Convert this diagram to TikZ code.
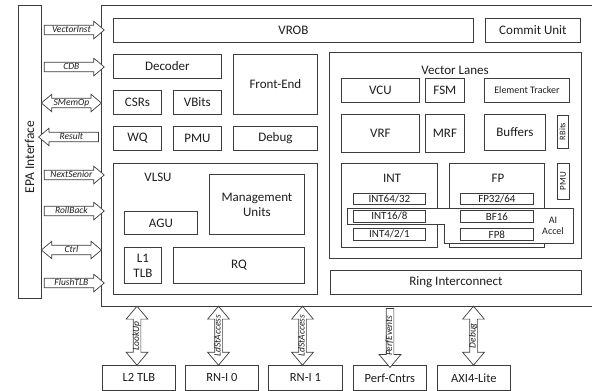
\documentclass[tikz,border=0pt]{standalone}
\usepackage{fontspec}
\setmainfont{Carlito}
\usetikzlibrary{shapes.arrows}
\definecolor{ln}{HTML}{3C3C3C}
\definecolor{tx}{HTML}{1E1E1E}
\tikzset{
  blk/.style={draw=ln, line width=0.8pt, fill=white, text=tx, inner sep=0pt, align=center, font=\fontsize{13}{15}\selectfont},
  sml/.style={blk, font=\fontsize{11}{12}\selectfont},
  tinyblk/.style={blk, font=\fontsize{8.5}{9}\selectfont},
  lbl/.style={text=tx, inner sep=0pt, align=center, font=\fontsize{13}{15}\selectfont},
  harrow/.style={draw=ln, line width=0.7pt, fill=white, text=tx, inner xsep=1pt, inner ysep=0.5pt, text height=6.2pt, text depth=1.6pt, font=\fontsize{9.5}{10}\selectfont\itshape, minimum height=60pt},
  hsingle/.style={harrow, single arrow, single arrow head extend=4pt, single arrow tip angle=80},
  hdouble/.style={harrow, double arrow, double arrow head extend=4pt, double arrow tip angle=80},
  varrow/.style={draw=ln, line width=0.7pt, fill=white, text=tx, inner xsep=1pt, inner ysep=0.5pt, text height=5pt, text depth=1pt, font=\fontsize{9.5}{10}\selectfont\itshape, minimum height=59pt, rotate=90},
  vsingle/.style={varrow, single arrow, single arrow head extend=7pt, single arrow tip angle=80},
  vdouble/.style={varrow, double arrow, double arrow head extend=7pt, double arrow tip angle=80},
}
\begin{document}
\begin{tikzpicture}[x=1pt, y=-1pt]
\useasboundingbox (0,0) rectangle (592,391);
% outer frames
\node[draw=none, anchor=north west, minimum width=491pt, minimum height=301pt, inner sep=0pt] (main) at (101,5) {};
\draw[ln, line width=0.8pt] (main.north east) -- (main.north west) -- (main.south west) -- (main.south east);
\node[blk, anchor=north west, minimum width=23pt, minimum height=293pt] (epa) at (18,5) {};
\node[lbl, rotate=90, font=\fontsize{13.5}{15}\selectfont] (epatext) at (29.5,157) {EPA Interface};

% top row
\node[blk, anchor=north west, minimum width=360pt, minimum height=24pt] (vrob) at (113,18) {VROB};
\node[blk, anchor=north west, minimum width=95pt, minimum height=24pt] (commit) at (485,18) {Commit Unit};

% front-end area
\node[blk, anchor=north west, minimum width=108pt, minimum height=24pt] (decoder) at (113,54) {Decoder};
\node[blk, anchor=north west, minimum width=84pt, minimum height=60pt] (frontend) at (233,54) {Front-End};
\node[blk, anchor=north west, minimum width=48pt, minimum height=24pt] (csrs) at (113,90) {CSRs};
\node[blk, anchor=north west, minimum width=48pt, minimum height=24pt] (vbits) at (173,90) {VBits};
\node[blk, anchor=north west, minimum width=48pt, minimum height=24pt] (wq) at (113,126) {WQ};
\node[blk, anchor=north west, minimum width=48pt, minimum height=24pt] (pmu) at (173,126) {PMU};
\node[blk, anchor=north west, minimum width=84pt, minimum height=24pt] (debug) at (233,126) {Debug};

% VLSU
\node[blk, anchor=north west, minimum width=204pt, minimum height=131pt] (vlsu) at (113,163) {};
\node[lbl] (vlsul) at (158,177) {VLSU};
\node[blk, anchor=north west, minimum width=95pt, minimum height=60pt] (mgmt) at (209,174) {Management\\Units};
\node[blk, anchor=north west, minimum width=73pt, minimum height=23pt] (agu) at (124,211) {AGU};
\node[blk, anchor=north west, minimum width=37pt, minimum height=36pt] (l1tlb) at (124,247) {L1\\TLB};
\node[blk, anchor=north west, minimum width=131pt, minimum height=36pt] (rq) at (173,247) {RQ};

% Vector lanes
\node[blk, anchor=north west, minimum width=252pt, minimum height=206pt] (lanes) at (329,52) {};
\node[lbl] (lanesl) at (455,70) {Vector Lanes};
\node[blk, anchor=north west, minimum width=78pt, minimum height=24pt] (vcu) at (341,78) {VCU};
\node[blk, anchor=north west, minimum width=39pt, minimum height=24pt] (fsm) at (425,78) {FSM};
\node[blk, anchor=north west, minimum width=85pt, minimum height=24pt, font=\fontsize{10}{11}\selectfont] (tracker) at (484,78) {Element Tracker};
\node[blk, anchor=north west, minimum width=78pt, minimum height=38pt] (vrf) at (341,114) {VRF};
\node[blk, anchor=north west, minimum width=39pt, minimum height=38pt] (mrf) at (425,114) {MRF};
\node[blk, anchor=north west, minimum width=61pt, minimum height=36pt] (buffers) at (484,114) {Buffers};
\node[tinyblk, rotate=90, minimum width=33pt, minimum height=11pt] (rbits) at (562.5,131.5) {RBits};

\node[blk, anchor=north west, minimum width=96pt, minimum height=84pt] (int) at (341,163) {};
\node[lbl] (intl) at (392,178) {INT};
\node[blk, anchor=north west, minimum width=95pt, minimum height=84pt] (fp) at (449,163) {};
\node[lbl] (fpl) at (498,178) {FP};
\node[tinyblk, rotate=90, minimum width=36pt, minimum height=12pt, font=\fontsize{9}{10}\selectfont] (lpmu) at (563,181) {PMU};

% AI accelerator outline
\draw[ln, line width=0.8pt, fill=white] (347,208) -- (573,208) -- (573,243) -- (444,243) -- (444,224) -- (347,224) -- cycle;
\node[lbl, font=\fontsize{10}{11.5}\selectfont] (ail) at (553,226) {AI\\Accel};

\node[sml, anchor=north west, minimum width=72pt, minimum height=11pt] (int64) at (353,193) {INT64/32};
\node[sml, anchor=north west, minimum width=72pt, minimum height=12pt] (int16) at (353,210) {INT16/8};
\node[sml, anchor=north west, minimum width=72pt, minimum height=12pt] (int4) at (353,228) {INT4/2/1};
\node[sml, anchor=north west, minimum width=73pt, minimum height=11pt] (fp32) at (460,193) {FP32/64};
\node[sml, anchor=north west, minimum width=73pt, minimum height=12pt] (bf16) at (460,210) {BF16};
\node[sml, anchor=north west, minimum width=73pt, minimum height=12pt] (fp8) at (460,228) {FP8};

\node[blk, anchor=north west, minimum width=251pt, minimum height=24pt] (ring) at (330,270) {Ring Interconnect};

% bottom boxes
\node[blk, anchor=north west, minimum width=73pt, minimum height=25pt, font=\fontsize{12.5}{14}\selectfont] (l2tlb) at (102,365) {L2 TLB};
\node[blk, anchor=north west, minimum width=73pt, minimum height=25pt, font=\fontsize{12.5}{14}\selectfont] (rni0) at (185,365) {RN-I 0};
\node[blk, anchor=north west, minimum width=74pt, minimum height=25pt, font=\fontsize{12.5}{14}\selectfont] (rni1) at (268,365) {RN-I 1};
\node[blk, anchor=north west, minimum width=73pt, minimum height=25pt, font=\fontsize{12.5}{14}\selectfont] (perf) at (353,365) {Perf-Cntrs};
\node[blk, anchor=north west, minimum width=73pt, minimum height=25pt, font=\fontsize{12.5}{14}\selectfont] (axi) at (437,365) {AXI4-Lite};

% horizontal interface arrows
\coordinate (r1) at (0,30);
\coordinate (r2) at (0,67);
\coordinate (r3) at (0,103);
\coordinate (r4) at (0,137);
\coordinate (r5) at (0,175);
\coordinate (r6) at (0,211);
\coordinate (r7) at (0,250);
\coordinate (r8) at (0,283);
\path (epa.east |- r1) -- (main.west |- r1) node[midway, hsingle] (avi) {VectorInst};
\path (epa.east |- r2) -- (main.west |- r2) node[midway, hsingle] (acdb) {CDB};
\path (epa.east |- r3) -- (main.west |- r3) node[midway, hdouble] (asm) {SMemOp};
\path (epa.east |- r4) -- (main.west |- r4) node[midway, hsingle, shape border rotate=180] (ares) {Result};
\path (epa.east |- r5) -- (main.west |- r5) node[midway, hsingle] (ans) {NextSenior};
\path (epa.east |- r6) -- (main.west |- r6) node[midway, hsingle] (arb) {RollBack};
\path (epa.east |- r7) -- (main.west |- r7) node[midway, hdouble] (actl) {Ctrl};
\path (epa.east |- r8) -- (main.west |- r8) node[midway, hsingle] (aft) {FlushTLB};

% vertical arrows
\coordinate (c1) at (137,0);
\coordinate (c2) at (218.5,0);
\coordinate (c3) at (302.5,0);
\coordinate (c4) at (390,0);
\coordinate (c5) at (473.5,0);
\path (main.south -| c1) -- (l2tlb.north -| c1) node[midway, vdouble] (alu) {LookUp};
\path (main.south -| c2) -- (rni0.north -| c2) node[midway, vdouble] (als0) {LdStAccess};
\path (main.south -| c3) -- (rni1.north -| c3) node[midway, vdouble] (als1) {LdStAccess};
\path (main.south -| c4) -- (perf.north -| c4) node[midway, vsingle, shape border rotate=180] (ape) {PerfEvents};
\path (main.south -| c5) -- (axi.north -| c5) node[midway, vdouble] (adb) {Debug};
\end{tikzpicture}
\end{document}
